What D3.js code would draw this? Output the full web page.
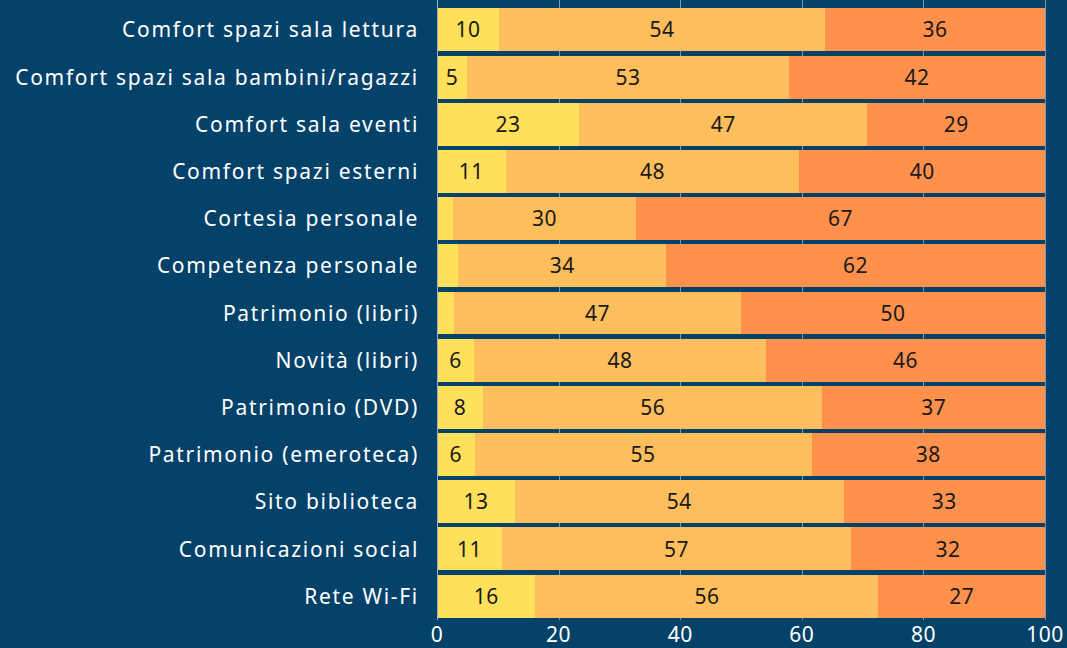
<!DOCTYPE html>
<html>
<head>
<meta charset="utf-8">
<script src="https://cdn.jsdelivr.net/npm/d3@7"></script>
<style>
  html, body { margin: 0; padding: 0; background: #04426a; }
  svg { display: block; }
</style>
</head>
<body>
<div id="chart"></div>
<script>
const categories = [
    "Comfort spazi sala lettura",
    "Comfort spazi sala bambini/ragazzi",
    "Comfort sala eventi",
    "Comfort spazi esterni",
    "Cortesia personale",
    "Competenza personale",
    "Patrimonio (libri)",
    "Novità (libri)",
    "Patrimonio (DVD)",
    "Patrimonio (emeroteca)",
    "Sito biblioteca",
    "Comunicazioni social",
    "Rete Wi-Fi"
];
const low  = [10.2, 4.9, 23.4, 11.3, 2.7, 3.5, 2.8, 6.1, 7.6, 6.2, 12.8, 10.7, 16.2];
const mid  = [53.6, 53.0, 47.4, 48.3, 30.0, 34.2, 47.2, 48.0, 55.8, 55.4, 54.1, 57.4, 56.4];
const high = [36.2, 42.1, 29.2, 40.4, 67.3, 62.3, 50.0, 45.9, 36.6, 38.4, 33.1, 31.9, 27.4];
const seriesKeys = ["low", "mid", "high"];
const colors = ["#ffe05a", "#ffbe5c", "#ff914d"];
const ticks = [0, 20, 40, 60, 80, 100];

const width = 1067, height = 648;
const margin = { left: 437, right: 22, top: 6, bottom: 28 };

const data = categories.map((c, i) => ({ cat: c, low: low[i], mid: mid[i], high: high[i] }));

const svg = d3.select("#chart").append("svg")
    .attr("width", width).attr("height", height)
    .style("font-family", "'Noto Sans', sans-serif");

const x = d3.scaleLinear().domain([0, 100]).range([margin.left, width - margin.right]);
const y = d3.scaleBand().domain(categories).range([margin.top, height - margin.bottom]).paddingInner(0.09).paddingOuter(0.05);
const px = v => Math.round(x(v));

// gridlines
svg.append("g").selectAll("line").data(ticks.slice(1)).join("line")
    .attr("x1", d => px(d) + 0.5).attr("x2", d => px(d) + 0.5)
    .attr("y1", 0).attr("y2", y.range()[1])
    .attr("stroke", "#7f97ab").attr("stroke-width", 1);

const stacked = d3.stack().keys(seriesKeys)(data);

const layers = svg.append("g").selectAll("g").data(stacked).join("g")
    .attr("fill", (d, i) => colors[i]);

layers.selectAll("rect").data(d => d).join("rect")
    .attr("x", d => px(d[0]))
    .attr("width", d => px(d[1]) - px(d[0]))
    .attr("y", d => y(d.data.cat))
    .attr("height", y.bandwidth())
    .attr("shape-rendering", "crispEdges");

layers.selectAll("text").data(d => d.filter(s => s[1] - s[0] >= 4.5)).join("text")
    .text(d => Math.round(d[1] - d[0]))
    .attr("x", d => (x(d[0]) + x(d[1])) / 2)
    .attr("y", d => y(d.data.cat) + y.bandwidth() / 2)
    .attr("dy", "0.36em")
    .attr("text-anchor", "middle")
    .attr("fill", "#1a1a1a")
    .style("font-size", "21px")
    .style("letter-spacing", "0.5px");

// axis line
svg.append("line")
    .attr("x1", px(0) + 0.5).attr("x2", px(0) + 0.5)
    .attr("y1", 0).attr("y2", y.range()[1])
    .attr("stroke", "#9fb3c4").attr("stroke-width", 1);

// category labels
svg.append("g").selectAll("text").data(categories).join("text")
    .text(d => d)
    .attr("x", x(0) - 18)
    .attr("y", d => y(d) + y.bandwidth() / 2)
    .attr("dy", "0.36em")
    .attr("text-anchor", "end")
    .attr("fill", "#ffffff")
    .style("font-size", "21px")
    .style("letter-spacing", "1.7px");

// tick labels
svg.append("g").selectAll("text").data(ticks).join("text")
    .text(d => d)
    .attr("x", d => x(d))
    .attr("y", 642)
    .attr("text-anchor", "middle")
    .attr("fill", "#ffffff")
    .style("font-size", "21px")
    .style("letter-spacing", "0.5px");
</script>
</body>
</html>
